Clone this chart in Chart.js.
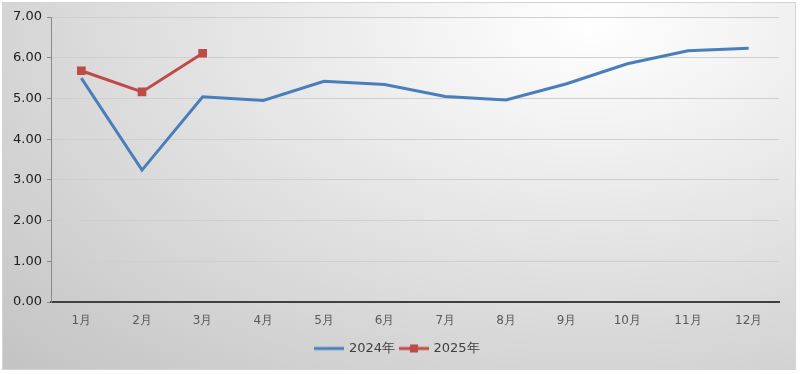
<html>
<head>
  <title>Monthly chart</title>
  <script src="https://cdn.jsdelivr.net/npm/chart.js@4.4.0/dist/chart.umd.min.js"></script>
  <style>
  body {
    margin: 0;
    background: #ffffff;
  }
  #box {
    position: absolute;
    left: 2px;
    top: 2px;
    width: 794px;
    height: 368px;
    background: radial-gradient(farthest-corner at 74% 6%, #ffffff 0%, #e4e4e4 45%, #c3c3c3 100%);
    border: 1px solid #d4d4d4;
    box-sizing: border-box;
  }
  </style>
</head>
<body>
  <div id="box"><canvas id="line-chart"></canvas></div>

  <script>
    var months = ["1月", "2月", "3月", "4月", "5月", "6月", "7月", "8月", "9月", "10月", "11月", "12月"];
    var values2024 = [5.50, 3.24, 5.04, 4.95, 5.42, 5.34, 5.05, 4.96, 5.36, 5.85, 6.17, 6.23];
    var values2025 = [5.68, 5.16, 6.11];
    var seriesNames = ["2024年", "2025年"];
    var blue = "#4a7ebb";
    var red = "#be4b48";

    // little pictures for the legend keys
    function legendKey(color, marker) {
      var c = document.createElement("canvas");
      c.width = 30; c.height = 10;
      var ctx = c.getContext("2d");
      ctx.strokeStyle = color;
      ctx.lineWidth = 3;
      ctx.beginPath();
      ctx.moveTo(0, 5); ctx.lineTo(30, 5);
      ctx.stroke();
      if (marker) {
        ctx.fillStyle = color;
        ctx.fillRect(11, 1, 8, 8);
      }
      return c;
    }

    // nudge the legend a bit right, the plot has a right margin
    var legendShift = {
      id: 'legendShift',
      afterLayout: function (chart) {
        chart.legend.left += 7;
        chart.legend.right += 7;
      }
    };

    new Chart(document.getElementById("line-chart"), {
      type: 'line',
      data: {
        labels: months,
        datasets: [
          {
            label: seriesNames[0],
            data: values2024,
            borderColor: blue,
            borderWidth: 3,
            pointRadius: 0,
            tension: 0
          },
          {
            label: seriesNames[1],
            data: values2025,
            borderColor: red,
            backgroundColor: red,
            borderWidth: 3,
            pointStyle: 'rect',
            pointRadius: 4,
            tension: 0
          }
        ]
      },
      plugins: [legendShift],
      options: {
        responsive: true,
        maintainAspectRatio: false,
        animation: false,
        layout: { padding: { left: 0, right: 16, top: 14, bottom: 4 } },
        plugins: {
          legend: {
            position: 'bottom',
            labels: {
              usePointStyle: true,
              pointStyleWidth: 26,
              color: '#404040',
              font: { family: 'DejaVu Sans', size: 13 },
              padding: 6,
              generateLabels: function (chart) {
                return chart.data.datasets.map(function (ds, i) {
                  return {
                    text: ds.label,
                    fontColor: '#404040',
                    pointStyle: legendKey(ds.borderColor, i == 1),
                    datasetIndex: i,
                    lineWidth: 0,
                    strokeStyle: 'transparent',
                    fillStyle: 'transparent'
                  };
                });
              }
            }
          },
          tooltip: { enabled: false }
        },
        scales: {
          x: {
            offset: true,
            grid: { display: false, drawTicks: false },
            border: { color: '#404040', width: 2 },
            ticks: { color: '#595959', font: { family: 'DejaVu Sans', size: 12 }, padding: 12 },
            afterFit: function (axis) { axis.height = 34; }
          },
          y: {
            min: 0,
            max: 7,
            ticks: {
              stepSize: 1,
              color: '#202020',
              font: { family: 'DejaVu Sans', size: 13 },
              padding: 5,
              callback: function (v) { return v.toFixed(2); }
            },
            grid: { color: '#cfcfcf', tickLength: 4, tickColor: '#8a8a8a' },
            border: { color: '#8a8a8a', width: 1 },
            afterFit: function (axis) { axis.width = 48; }
          }
        }
      }
    });
  </script>
</body>
</html>
